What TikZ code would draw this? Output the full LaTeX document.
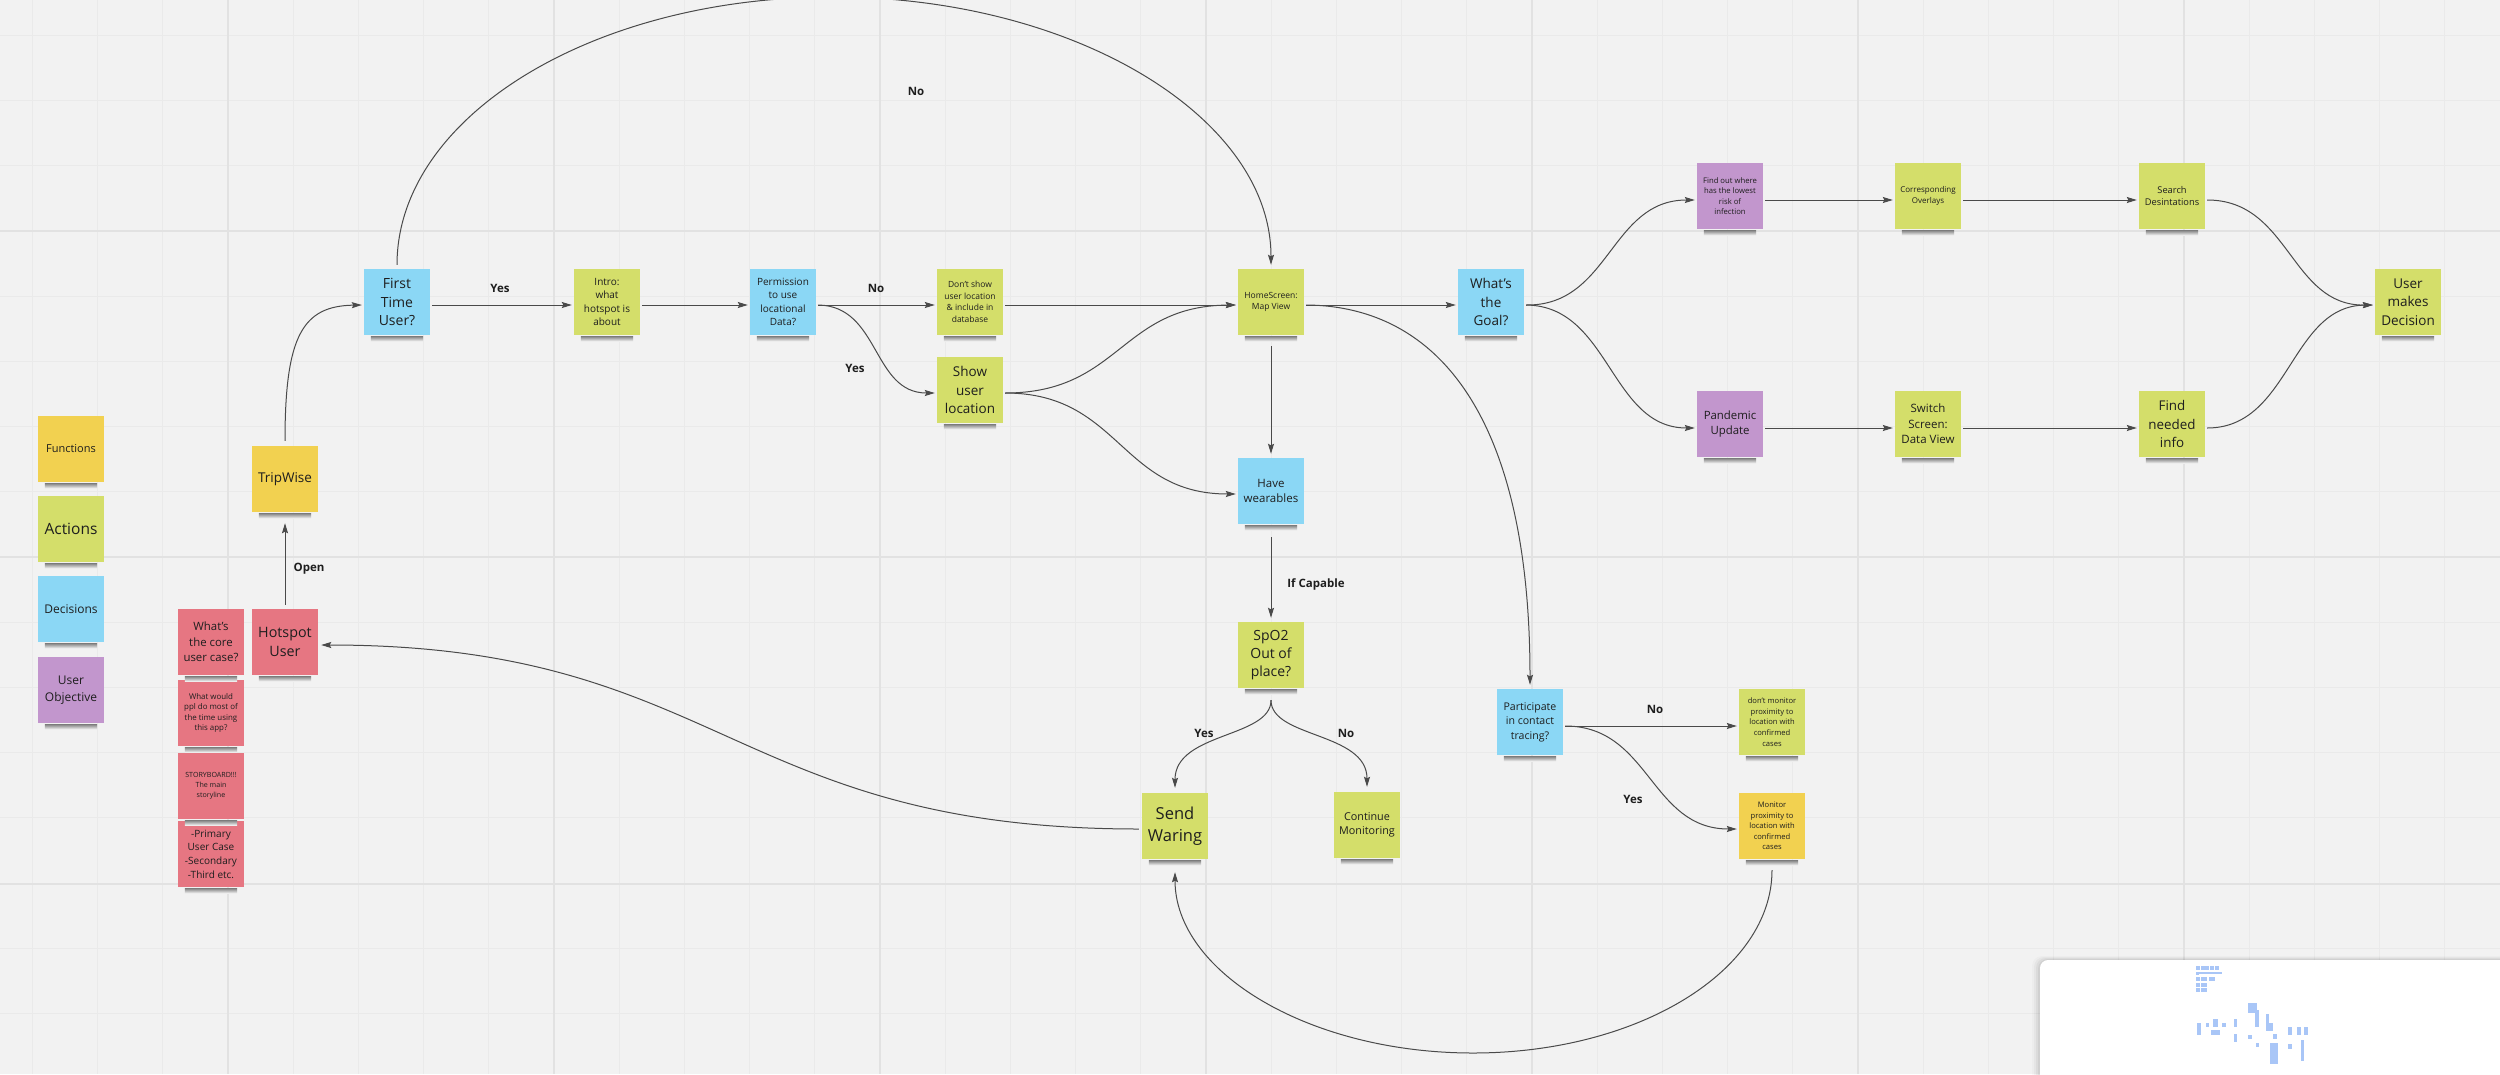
\documentclass[tikz,border=0pt]{standalone}
\usepackage{fontspec}
\setmainfont{Open Sans}
\usetikzlibrary{arrows.meta}
\definecolor{bgc}{HTML}{F2F2F2}
\definecolor{gminor}{HTML}{EAEAEA}
\definecolor{gmajor}{HTML}{E2E2E2}
\definecolor{cyel}{HTML}{F2D150}
\definecolor{cgrn}{HTML}{D4DE6A}
\definecolor{cblu}{HTML}{8BD7F5}
\definecolor{cpur}{HTML}{C296CD}
\definecolor{cpnk}{HTML}{E67682}
\definecolor{txt}{HTML}{1E1E1E}
\definecolor{cline}{HTML}{4A4A4A}
\definecolor{mmap}{HTML}{A9C6F7}
\newcommand\fsz[2]{\fontsize{#1}{#2}\selectfont}
\newcommand\stshadow[1]{\shade[top color=black!50,bottom color=bgc] ([xshift=7pt,yshift=-1pt]#1.south west) rectangle ([xshift=-7pt,yshift=-6pt]#1.south east);}
\begin{document}
\begin{tikzpicture}[x=1pt,y=-1pt,
  sticky/.style={minimum width=66pt,minimum height=66pt,inner sep=1pt,align=center,text=txt},
  yel/.style={sticky,fill=cyel},
  grn/.style={sticky,fill=cgrn},
  blu/.style={sticky,fill=cblu},
  pur/.style={sticky,fill=cpur},
  pnk/.style={sticky,fill=cpnk},
  arr/.style={draw=cline,line width=1pt,-{Stealth[length=10pt,width=6pt,inset=1.5pt]}},
  lbl/.style={font=\bfseries\fsz{11.5}{14},text=txt,inner sep=0pt},
  minor/.style={draw=gminor,line width=1pt},
  major/.style={draw=gmajor,line width=2pt}]
\useasboundingbox (0,0) rectangle (2500,1074);
\fill[bgc] (0,0) rectangle (2500,1074);
% grid
\foreach \i in {0,...,37} {\draw[minor] ({32.4+\i*65.2},0) -- ({32.4+\i*65.2},1074);}
\foreach \i in {0,...,15} {\draw[minor] (0,{35.4+\i*65.2}) -- (2500,{35.4+\i*65.2});}
\foreach \i in {0,...,6} {\draw[major] ({228+\i*326},0) -- ({228+\i*326},1074);}
\foreach \yy in {231,557,884} {\draw[major] (0,\yy) -- (2500,\yy);}

% legend
\node[yel,font=\fsz{11}{14}] (fn) at (71,449) {Functions};
\node[grn,font=\fsz{15.5}{19}] (act) at (71,529) {Actions};
\node[blu,font=\fsz{12}{15}] (dec) at (71,609) {Decisions};
\node[pur,font=\fsz{12}{17}] (uobj) at (71,690) {User\\Objective};

% left column
\node[yel,font=\fsz{13.5}{17}] (trip) at (285,479) {TripWise};
\node[pnk,font=\fsz{14.3}{19.6}] (hot) at (285,642) {Hotspot\\User};
\node[pnk,font=\fsz{11.4}{15.4}] (core) at (211,642) {What's\\the core\\user case?};
\node[pnk,font=\fsz{7.9}{10.4}] (ppl) at (211,713) {What would\\ppl do most of\\the time using\\this app?};
\node[pnk,font=\fsz{7.1}{10}] (story) at (211,786) {STORYBOARD!!!\\The main\\storyline};
\node[pnk,font=\fsz{10}{13.6}] (prim) at (211,854) {-Primary\\User Case\\-Secondary\\-Third etc.};

% main row
\node[blu,font=\fsz{14}{18.3}] (first) at (397,302) {First\\Time\\User?};
\node[grn,font=\fsz{10}{13.3}] (intro) at (607,302) {Intro:\\what\\hotspot is\\about};
\node[blu,font=\fsz{10}{13.3}] (perm) at (783,302) {Permission\\to use\\locational\\Data?};
\node[grn,font=\fsz{8.5}{11.6}] (dont) at (970,302) {Don't show\\user location\\\& include in\\database};
\node[grn,font=\fsz{13.5}{18.7}] (show) at (970,390) {Show\\user\\location};
\node[grn,font=\fsz{8.5}{11.7}] (home) at (1271,302) {HomeScreen:\\Map View};
\node[blu,font=\fsz{13.5}{18.3}] (goal) at (1491,302) {What's\\the\\Goal?};
\node[pur,font=\fsz{7.7}{10.5}] (find) at (1730,196) {Find out where\\has the lowest\\risk of\\infection};
\node[grn,font=\fsz{8}{11}] (overl) at (1928,196) {Corresponding\\Overlays};
\node[grn,font=\fsz{9.3}{12.3}] (search) at (2172,196) {Search\\Desintations};
\node[grn,font=\fsz{13.5}{18.3}] (decide) at (2408,302) {User\\makes\\Decision};
\node[pur,font=\fsz{11.4}{15.7}] (pand) at (1730,424) {Pandemic\\Update};
\node[grn,font=\fsz{11.5}{15.5}] (switch) at (1928,424) {Switch\\Screen:\\Data View};
\node[grn,font=\fsz{13.4}{18.5}] (info) at (2172,424) {Find\\needed\\info};
\node[blu,font=\fsz{11.5}{15}] (wear) at (1271,491) {Have\\wearables};
\node[grn,font=\fsz{14}{18.2}] (spo) at (1271,655) {SpO2\\Out of\\place?};
\node[grn,font=\fsz{16.5}{21.7}] (send) at (1175,826) {Send\\Waring};
\node[grn,font=\fsz{10.8}{14.3}] (cont) at (1367,825) {Continue\\Monitoring};
\node[blu,font=\fsz{10.6}{14.5}] (part) at (1530,722) {Participate\\in contact\\tracing?};
\node[grn,font=\fsz{7.6}{10.6}] (nomon) at (1772,722) {don't monitor\\proximity to\\location with\\confirmed\\cases};
\node[yel,font=\fsz{7.6}{10.6}] (mon) at (1772,826) {Monitor\\proximity to\\location with\\confirmed\\cases};

\foreach \n in {fn,act,dec,uobj,trip,hot,core,ppl,story,prim,first,intro,perm,dont,show,home,goal,find,overl,search,decide,pand,switch,info,wear,spo,send,cont,part,nomon,mon} {\stshadow{\n}}

% connectors
\draw[arr] ([yshift=4pt]hot.north) -- ([yshift=-11pt]trip.south);
\node[lbl] (lopen) at (309,569) {Open};
\draw[arr] ([yshift=5pt]trip.north) .. controls (285,335) and (303,306) .. ([xshift=-2pt,yshift=-3pt]first.west);
\draw[arr] ([xshift=2pt,yshift=-3pt]first.east) -- ([xshift=-2pt,yshift=-3pt]intro.west);
\node[lbl] (lyes1) at (500,288) {Yes};
\draw[arr] ([xshift=2pt,yshift=-3pt]intro.east) -- ([xshift=-2pt,yshift=-3pt]perm.west);
\draw[arr] ([xshift=2pt,yshift=-3pt]perm.east) -- ([xshift=-2pt,yshift=-3pt]dont.west);
\node[lbl] (lno1) at (876,288) {No};
\draw[arr] ([xshift=2pt,yshift=-3pt]perm.east) .. controls (880,306) and (872,393) .. ([xshift=-2pt,yshift=-3pt]show.west);
\node[lbl] (lyes2) at (855,368) {Yes};
\draw[arr] ([xshift=2pt,yshift=-3pt]dont.east) -- ([xshift=-2pt,yshift=-3pt]home.west);
\draw[arr] ([xshift=2pt,yshift=-3pt]show.east) .. controls (1120,393) and (1120,306) .. ([xshift=-2pt,yshift=-3pt]home.west);
\draw[arr] ([xshift=2pt,yshift=-3pt]show.east) .. controls (1120,393) and (1120,494) .. ([xshift=-2pt,yshift=-3pt]wear.west);
\draw[arr] ([xshift=2pt,yshift=-3pt]home.east) -- ([xshift=-2pt,yshift=-3pt]goal.west);
\draw[arr] ([yshift=4pt]first.north) .. controls (397,117) and (592,-3) .. (833,-3) .. controls (1074,-3) and (1271,117) .. ([yshift=4pt]home.north);
\node[lbl] (lno2) at (916,91) {No};
\draw[arr] ([yshift=-11pt]home.south) -- ([yshift=4pt]wear.north);
\draw[arr] ([xshift=2pt,yshift=-3pt]home.east) .. controls (1440,306) and (1530,420) .. ([yshift=4pt]part.north);
\draw[arr] ([xshift=2pt,yshift=-3pt]goal.east) .. controls (1610,306) and (1610,200) .. ([xshift=-2pt,yshift=-4pt]find.west);
\draw[arr] ([xshift=2pt,yshift=-3pt]goal.east) .. controls (1610,306) and (1610,428) .. ([xshift=-2pt,yshift=-4pt]pand.west);
\draw[arr] ([xshift=2pt,yshift=-4pt]find.east) -- ([xshift=-2pt,yshift=-4pt]overl.west);
\draw[arr] ([xshift=2pt,yshift=-4pt]overl.east) -- ([xshift=-2pt,yshift=-4pt]search.west);
\draw[arr] ([xshift=2pt,yshift=-4pt]pand.east) -- ([xshift=-2pt,yshift=-4pt]switch.west);
\draw[arr] ([xshift=2pt,yshift=-4pt]switch.east) -- ([xshift=-2pt,yshift=-4pt]info.west);
\draw[arr] ([xshift=2pt,yshift=-4pt]search.east) .. controls (2290,200) and (2290,306) .. ([xshift=-2pt,yshift=-3pt]decide.west);
\draw[arr] ([xshift=2pt,yshift=-4pt]info.east) .. controls (2290,428) and (2290,306) .. ([xshift=-2pt,yshift=-3pt]decide.west);
\draw[arr] ([yshift=-13pt]wear.south) -- ([yshift=4pt]spo.north);
\node[lbl] (lcap) at (1316,584) {If Capable};
\draw[arr] ([yshift=-12pt]spo.south) .. controls (1271,738) and (1175,732) .. ([yshift=5pt]send.north);
\draw[arr] ([yshift=-12pt]spo.south) .. controls (1271,738) and (1367,732) .. ([yshift=5pt]cont.north);
\node[lbl] (lyes3) at (1204,733) {Yes};
\node[lbl] (lno3) at (1346,733) {No};
\draw[arr] ([xshift=-3pt,yshift=-3pt]send.west) .. controls (732,829) and (721,645) .. ([xshift=3pt,yshift=-3pt]hot.east);
\draw[arr] ([xshift=2pt,yshift=-4pt]part.east) -- ([xshift=-2pt,yshift=-4pt]nomon.west);
\node[lbl] (lno4) at (1655,709) {No};
\draw[arr] ([xshift=2pt,yshift=-4pt]part.east) .. controls (1650,726) and (1650,829) .. ([xshift=-2pt,yshift=-3pt]mon.west);
\node[lbl] (lyes4) at (1633,799) {Yes};
\draw[arr] ([yshift=-11pt]mon.south) .. controls (1772,971) and (1638,1053) .. (1473,1053) .. controls (1309,1053) and (1175,972) .. ([yshift=-13pt]send.south);

% minimap panel
\foreach \k/\o in {1/.05,2/.04,3/.03,4/.02} {\fill[black,opacity=\o,rounded corners=10pt] ({2040-2*\k},{960-\k}) rectangle (2520,1090);}
\fill[white,rounded corners=8pt] (2040,960) rectangle (2520,1090);
\begin{scope}[shift={(2000,940)},x=0.3333pt,y=-0.3333pt]
\foreach \ax/\ay/\bx/\by in {588/78/600/90,602/78/614/90,616/78/628/90,630/78/642/90,644/78/656/90,
 588/95/598/105,598/97/666/102,588/112/600/124,602/112/622/124,626/112/644/124,
 588/128/600/140,602/128/622/140,588/145/600/157,602/145/622/157,
 743/190/770/220,765/210/777/260,797/222/808/272,808/250/820/272,
 590/248/602/285,617/248/628/260,640/238/653/262,633/270/660/286,667/248/678/260,
 701/238/712/262,701/283/712/306,745/284/756/296,767/310/778/322,820/283/831/296,
 810/310/833/372,863/262/875/284,890/262/902/284,912/262/924/284,863/313/875/326,902/300/912/362}
 {\fill[mmap] (\ax,\ay) rectangle (\bx,\by);}
\end{scope}
\end{tikzpicture}
\end{document}
